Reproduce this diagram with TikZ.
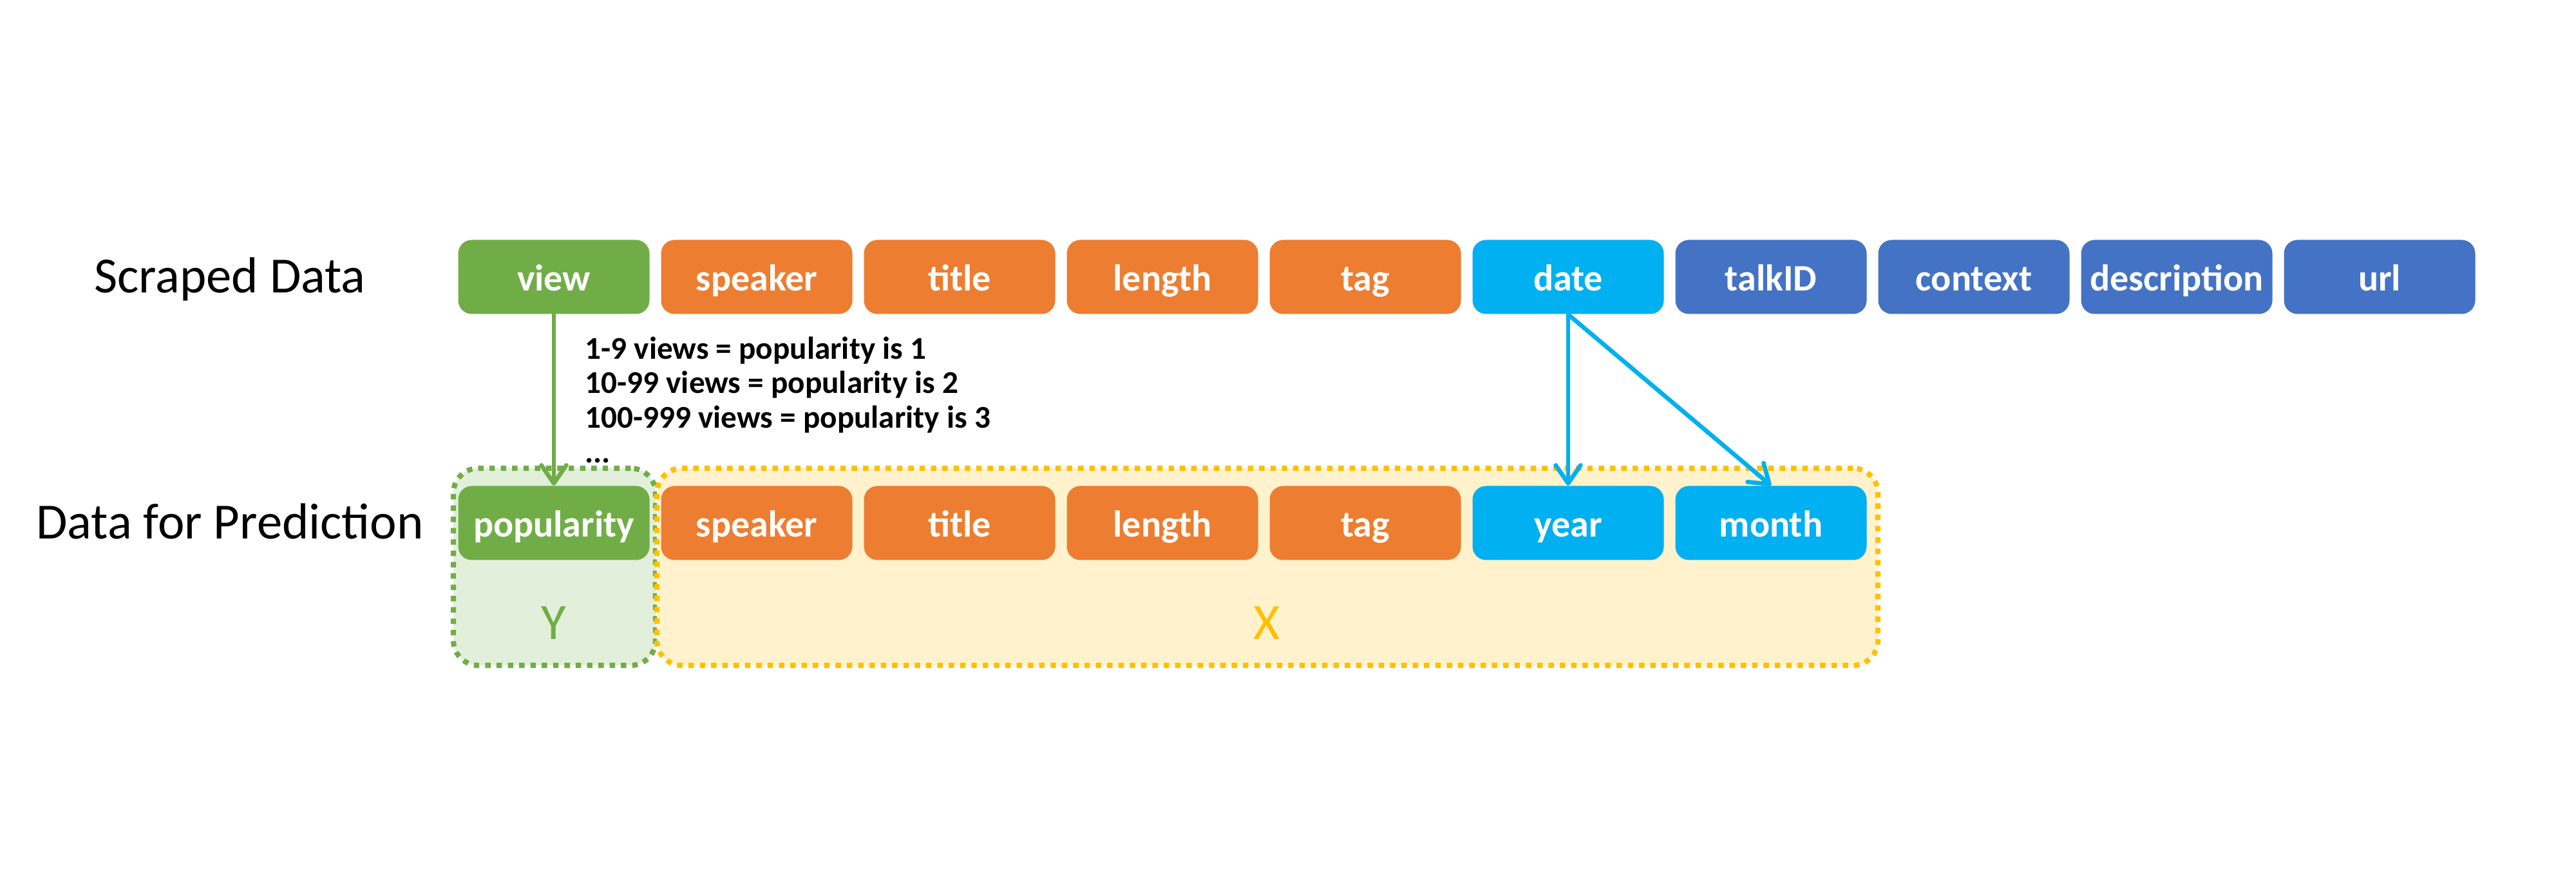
\documentclass[tikz,border=0pt]{standalone}
\usepackage{fontspec}
\setmainfont{Carlito}
\usetikzlibrary{arrows.meta}
\definecolor{cgreen}{HTML}{70AD47}
\definecolor{corange}{HTML}{ED7D31}
\definecolor{ccyan}{HTML}{00B0F0}
\definecolor{cblue}{HTML}{4472C4}
\definecolor{cyellow}{HTML}{FFC000}
\definecolor{lgreen}{HTML}{E2EFDA}
\definecolor{lyellow}{HTML}{FFF2CC}
\begin{document}
\begin{tikzpicture}[x=1cm,y=1cm,
  field/.style={rounded corners=6pt, minimum width=2.97cm, minimum height=1.15cm,
    text=white, font=\fontsize{16.5}{20}\bfseries\selectfont, inner sep=0pt,
    text height=12.5pt, text depth=0pt},
  grp/.style={rounded corners=11pt, line width=2.3pt, dash pattern=on 2.4pt off 2.6pt, inner sep=0pt},
  rowlabel/.style={font=\fontsize{22.4}{26}\selectfont, text=black, anchor=base},
  grplabel/.style={font=\fontsize{22.5}{26}\selectfont},
  conn/.style={line width=1.9pt, line cap=round, -{Straight Barb[length=8pt,width=11pt,round]}},
]
\useasboundingbox (0,0) rectangle (40,13.6);

% group boxes
\node[grp, draw=cgreen, fill=lgreen, minimum width=3.14cm, minimum height=3.06cm] (ygroup) at (8.61,4.80) {};
\node[grp, draw=cyellow, fill=lyellow, minimum width=18.96cm, minimum height=3.06cm] (xgroup) at (19.68,4.80) {};

% row labels
\node[rowlabel] (lscraped) at (3.57,9.05) {Scraped Data};
\node[rowlabel] (lpred) at (3.57,5.23) {Data for Prediction};

% top row
\node[field, fill=cgreen]  (view)    at (8.60,9.30)  {view};
\node[field, fill=corange] (speaker) at (11.75,9.30) {speaker};
\node[field, fill=corange] (title)   at (14.90,9.30) {title};
\node[field, fill=corange] (length)  at (18.05,9.30) {length};
\node[field, fill=corange] (tag)     at (21.20,9.30) {tag};
\node[field, fill=ccyan]   (date)    at (24.35,9.30) {date};
\node[field, fill=cblue]   (talkid)  at (27.50,9.30) {talkID};
\node[field, fill=cblue]   (context) at (30.65,9.30) {context};
\node[field, fill=cblue]   (descr)   at (33.80,9.30) {description};
\node[field, fill=cblue]   (url)     at (36.95,9.30) {url};

% bottom row
\node[field, fill=cgreen]  (pop)      at (8.60,5.48)  {popularity};
\node[field, fill=corange] (speakerb) at (11.75,5.48) {speaker};
\node[field, fill=corange] (titleb)   at (14.90,5.48) {title};
\node[field, fill=corange] (lengthb)  at (18.05,5.48) {length};
\node[field, fill=corange] (tagb)     at (21.20,5.48) {tag};
\node[field, fill=ccyan]   (year)     at (24.35,5.48) {year};
\node[field, fill=ccyan]   (month)    at (27.50,5.48) {month};

% group labels
\node[grplabel, text=cgreen]  (ylab) at (8.60,3.93)  {Y};
\node[grplabel, text=cyellow] (xlab) at (19.67,3.93) {X};

% rule annotation
\node[anchor=north west, align=left, inner sep=0pt,
      font=\fontsize{14}{15.3}\bfseries\selectfont] (rule) at (9.08,8.38)
  {1-9 views = popularity is 1\\10-99 views = popularity is 2\\100-999 views = popularity is 3\\...};

% connectors
\draw[conn, cgreen] (view.south) -- (pop.north);
\draw[conn, ccyan] (date.south) -- (year.north);
\draw[conn, ccyan] (date.south) -- (month.north);
\end{tikzpicture}
\end{document}
